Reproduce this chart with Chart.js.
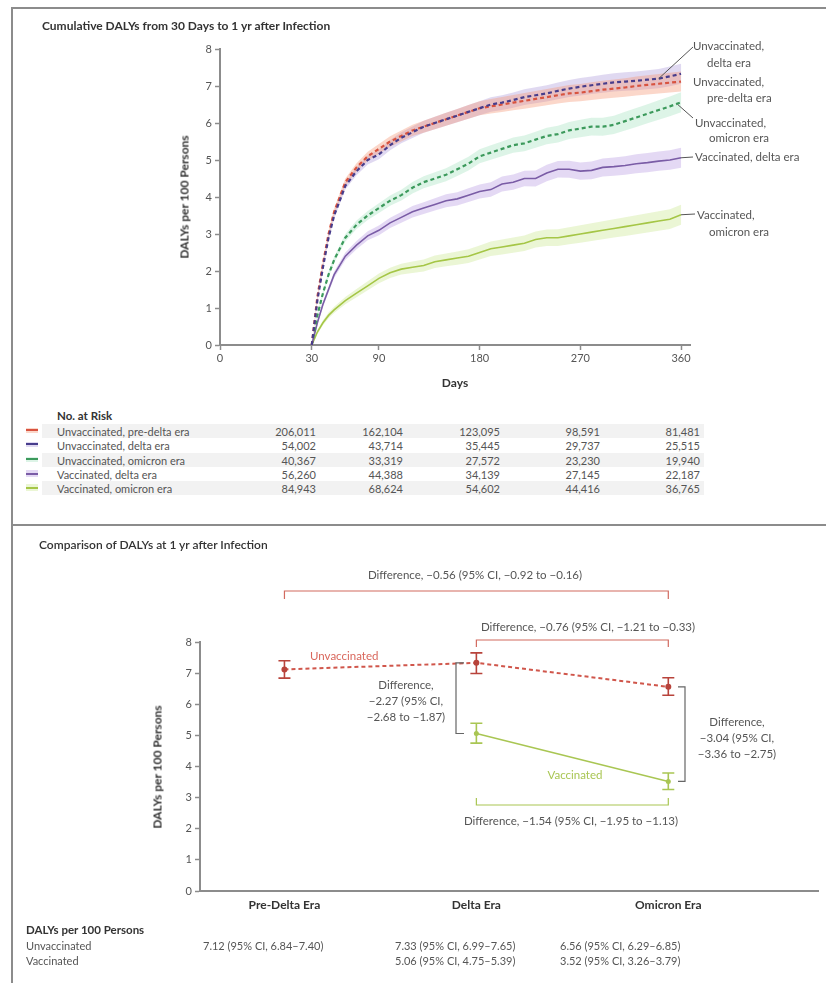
<!DOCTYPE html>
<html>
<head>
<meta charset="utf-8">
<script src="https://cdn.jsdelivr.net/npm/chart.js"></script>
<style>
  body { margin: 0; background: #fff; font-family: Lato, "Open Sans", sans-serif; color: #555; }
  #page { position: relative; width: 826px; height: 983px; overflow: hidden; }
  .abs { position: absolute; white-space: nowrap; line-height: 1; }
  .t { font-size: 11.5px; color: #555; }
  .hd { font-size: 12px; font-weight: 700; color: #333; }
  .hline { position: absolute; height: 2px; background: #8c8c8c; }
  .vline { position: absolute; width: 2px; background: #8c8c8c; }
  .row { position: absolute; left: 42px; width: 662px; height: 14px; }
  .num { position: absolute; font-size: 11px; color: #555; text-align: right; width: 60px; line-height: 1; }
  .ytitle { position: absolute; transform: translate(-50%, -50%) rotate(-90deg); font-size: 12px; font-weight: 700; color: #333; white-space: nowrap; }
</style>
</head>
<body>
<div id="page">
  <!-- frame -->
  <div class="hline" style="left:12px; top:7px; width:814px;"></div>
  <div class="vline" style="left:11px; top:7px; height:976px;"></div>
  <div class="hline" style="left:12px; top:524px; width:814px;"></div>

  <canvas id="top" width="826" height="400" style="position:absolute; left:0; top:0;"></canvas>
  <canvas id="bottom" width="826" height="400" style="position:absolute; left:0; top:526px;"></canvas>

  <!-- top panel text -->
  <div class="abs hd" style="left:42px; top:20px;">Cumulative DALYs from 30 Days to 1 yr after Infection</div>
  <div class="ytitle" style="left:184px; top:197px;">DALYs per 100 Persons</div>
  <div class="abs hd" style="left:455px; top:377px; transform:translateX(-50%);">Days</div>

  <div class="abs t" style="left:693px; top:40px;">Unvaccinated,</div>
  <div class="abs t" style="left:707px; top:57px;">delta era</div>
  <div class="abs t" style="left:693px; top:76px;">Unvaccinated,</div>
  <div class="abs t" style="left:707px; top:92px;">pre-delta era</div>
  <div class="abs t" style="left:695px; top:117px;">Unvaccinated,</div>
  <div class="abs t" style="left:709px; top:132px;">omicron era</div>
  <div class="abs t" style="left:695px; top:151px;">Vaccinated, delta era</div>
  <div class="abs t" style="left:697px; top:209px;">Vaccinated,</div>
  <div class="abs t" style="left:709px; top:226px;">omicron era</div>

  <div class="abs hd" style="left:57px; top:410px; font-size:11.5px;">No. at Risk</div>
  <div id="riskTable"></div>

  <!-- bottom panel text -->
  <div class="abs hd" style="left:39px; top:539px; font-weight:600;">Comparison of DALYs at 1 yr after Infection</div>
  <div class="ytitle" style="left:157px; top:767px;">DALYs per 100 Persons</div>
  <div class="abs t" style="left:475px; top:569px; transform:translateX(-50%);">Difference, &minus;0.56 (95% CI, &minus;0.92 to &minus;0.16)</div>
  <div class="abs t" style="left:588px; top:621px; transform:translateX(-50%);">Difference, &minus;0.76 (95% CI, &minus;1.21 to &minus;0.33)</div>
  <div class="abs t" style="left:406px; top:677px; transform:translateX(-50%); text-align:center; line-height:16px;">Difference,<br>&minus;2.27 (95% CI,<br>&minus;2.68 to &minus;1.87)</div>
  <div class="abs t" style="left:737px; top:714px; transform:translateX(-50%); text-align:center; line-height:16px;">Difference,<br>&minus;3.04 (95% CI,<br>&minus;3.36 to &minus;2.75)</div>
  <div class="abs t" style="left:571px; top:815px; transform:translateX(-50%);">Difference, &minus;1.54 (95% CI, &minus;1.95 to &minus;1.13)</div>
  <div class="abs t" style="left:310px; top:650px; color:#d9675c;">Unvaccinated</div>
  <div class="abs t" style="left:575px; top:769px; color:#a9c653; transform:translateX(-50%);">Vaccinated</div>

  <div class="abs hd" style="left:26px; top:924px; font-size:11.5px;">DALYs per 100 Persons</div>
  <div class="abs t" style="left:26px; top:940px; font-size:11px;">Unvaccinated</div>
  <div class="abs t" style="left:26px; top:955px; font-size:11px;">Vaccinated</div>
  <div id="dalyTable"></div>
</div>

<script>
// ---- top panel data: cumulative DALYs per 100 persons by day ----
const days = [30, 35, 40, 45, 50, 60, 70, 80, 90, 100, 110, 120, 130, 140, 150, 160, 170, 180,
  190, 200, 210, 220, 230, 240, 250, 260, 270, 280, 290, 300, 310, 320, 330, 340, 350, 360];
const unvaxPreDelta = [0, 1.3, 2.2, 3.0, 3.6, 4.4, 4.8, 5.1, 5.3, 5.5, 5.65, 5.8, 5.9, 6.0, 6.1, 6.2, 6.3, 6.4,
  6.45, 6.5, 6.55, 6.6, 6.65, 6.7, 6.75, 6.8, 6.82, 6.86, 6.9, 6.93, 6.96, 7.0, 7.03, 7.06, 7.09, 7.12];
const unvaxDelta = [0, 1.2, 2.1, 2.9, 3.5, 4.3, 4.7, 5.0, 5.15, 5.4, 5.6, 5.75, 5.9, 6.0, 6.1, 6.2, 6.3, 6.4,
  6.5, 6.55, 6.62, 6.7, 6.75, 6.8, 6.87, 6.93, 6.98, 7.02, 7.06, 7.1, 7.12, 7.14, 7.17, 7.2, 7.26, 7.33];
const unvaxOmicron = [0, 0.8, 1.4, 1.9, 2.3, 2.9, 3.25, 3.5, 3.7, 3.9, 4.05, 4.25, 4.4, 4.5, 4.6, 4.75, 4.9, 5.1,
  5.2, 5.3, 5.4, 5.45, 5.55, 5.65, 5.7, 5.8, 5.85, 5.9, 5.9, 5.95, 6.05, 6.15, 6.25, 6.35, 6.45, 6.56];
const vaxDelta = [0, 0.6, 1.1, 1.5, 1.9, 2.4, 2.7, 2.95, 3.1, 3.3, 3.45, 3.6, 3.7, 3.8, 3.9, 3.95, 4.05, 4.15,
  4.2, 4.35, 4.4, 4.5, 4.5, 4.65, 4.75, 4.75, 4.7, 4.72, 4.8, 4.82, 4.85, 4.9, 4.93, 4.97, 5.0, 5.06];
const vaxOmicron = [0, 0.35, 0.6, 0.8, 0.95, 1.2, 1.4, 1.6, 1.8, 1.95, 2.05, 2.1, 2.15, 2.25, 2.3, 2.35, 2.4, 2.5,
  2.6, 2.65, 2.7, 2.75, 2.85, 2.9, 2.9, 2.95, 3.0, 3.05, 3.1, 3.15, 3.2, 3.25, 3.3, 3.35, 3.4, 3.52];

const xTickDays = [0, 30, 90, 180, 270, 360];
const X_START = -52; // axis is broken between 0 and 30 days

// no. at risk
const riskLabels = ['Unvaccinated, pre-delta era', 'Unvaccinated, delta era', 'Unvaccinated, omicron era',
  'Vaccinated, delta era', 'Vaccinated, omicron era'];
const riskPreDelta = ['206,011', '162,104', '123,095', '98,591', '81,481'];
const riskUnvaxDelta = ['54,002', '43,714', '35,445', '29,737', '25,515'];
const riskUnvaxOmicron = ['40,367', '33,319', '27,572', '23,230', '19,940'];
const riskVaxDelta = ['56,260', '44,388', '34,139', '27,145', '22,187'];
const riskVaxOmicron = ['84,943', '68,624', '54,602', '44,416', '36,765'];

// ---- bottom panel data ----
const eras = ['Pre-Delta Era', 'Delta Era', 'Omicron Era'];
const unvaxDaly = [7.12, 7.33, 6.56];
const unvaxLow = [6.84, 6.99, 6.29];
const unvaxHigh = [7.40, 7.65, 6.85];
const vaxDaly = [null, 5.06, 3.52];
const vaxLow = [null, 4.75, 3.26];
const vaxHigh = [null, 5.39, 3.79];
const unvaxText = ['7.12 (95% CI, 6.84\u20137.40)', '7.33 (95% CI, 6.99\u20137.65)', '6.56 (95% CI, 6.29\u20136.85)'];
const vaxText = ['', '5.06 (95% CI, 4.75\u20135.39)', '3.52 (95% CI, 3.26\u20133.79)'];

// colours
const cPre = '#d8533f', bPre = 'rgba(244,150,115,0.38)';
const cUD = '#473d8c', bUD = 'rgba(165,145,215,0.35)';
const cUO = '#3c9a5c', bUO = 'rgba(150,220,180,0.32)';
const cVD = '#7a5ca6', bVD = 'rgba(185,155,225,0.38)';
const cVO = '#a5c646', bVO = 'rgba(205,232,150,0.4)';

Chart.defaults.font.family = 'Lato, "Open Sans", sans-serif';
Chart.defaults.font.size = 11;
Chart.defaults.color = '#555';

function pts(vals) { return days.map((d, i) => ({ x: d, y: vals[i] })); }

function line(vals, color, band, dashed) {
  return {
    data: pts(vals), borderColor: color, band: band, borderWidth: dashed ? 2.2 : 1.6, pointRadius: 0,
    borderDash: dashed ? [4, 3] : [], tension: 0
  };
}

function noPad(scale) {
  scale.paddingTop = 0; scale.paddingBottom = 0; scale.paddingLeft = 0; scale.paddingRight = 0;
}

// shaded confidence bands around each curve, widening with time
const bandPlugin = {
  id: 'bands',
  beforeDatasetsDraw(chart) {
    const { ctx, scales: { x, y } } = chart;
    ctx.save();
    chart.data.datasets.forEach(ds => {
      const top = [], bot = [];
      ds.data.forEach(p => {
        const hw = 1 + 9 * Math.sqrt(Math.min(1, (p.x - 30) / 330));
        const px = x.getPixelForValue(p.x), py = y.getPixelForValue(p.y);
        top.push([px, py - hw]);
        bot.push([px, py + hw]);
      });
      ctx.fillStyle = ds.band;
      ctx.beginPath();
      top.forEach((q, i) => (i ? ctx.lineTo(q[0], q[1]) : ctx.moveTo(q[0], q[1])));
      for (let i = bot.length - 1; i >= 0; i--) ctx.lineTo(bot[i][0], bot[i][1]);
      ctx.closePath();
      ctx.fill();
    });
    ctx.restore();
  }
};

const leaderPlugin = {
  id: 'leaders',
  afterDatasetsDraw(chart) {
    const { ctx, scales: { x, y } } = chart;
    ctx.save();
    ctx.strokeStyle = '#555';
    ctx.lineWidth = 1;
    const seg = (d, v, px, py) => {
      ctx.beginPath();
      ctx.moveTo(x.getPixelForValue(d), y.getPixelForValue(v));
      ctx.lineTo(px, py);
      ctx.stroke();
    };
    seg(340, 7.2, 693, 47);
    seg(357, 6.5, 693, 118);
    seg(360, 5.06, 693, 157);
    seg(360, 3.52, 695, 214);
    ctx.restore();
  }
};

new Chart(document.getElementById('top'), {
  type: 'line',
  data: {
    datasets: [
      line(unvaxDelta, cUD, bUD, true), line(unvaxPreDelta, cPre, bPre, true), line(unvaxOmicron, cUO, bUO, true),
      line(vaxDelta, cVD, bVD, false), line(vaxOmicron, cVO, bVO, false)
    ]
  },
  options: {
    responsive: false, animation: false,
    layout: { padding: { left: 180, right: 136, top: 49, bottom: 0 } },
    plugins: { legend: { display: false }, tooltip: { enabled: false } },
    scales: {
      x: {
        type: 'linear', min: X_START, max: 368,
        afterBuildTicks: axis => { axis.ticks = xTickDays.map(d => ({ value: d === 0 ? X_START : d })); },
        afterFit: s => { s.height = 55; noPad(s); },
        ticks: { callback: v => (v === X_START ? '0' : String(v)), padding: 2, maxRotation: 0, autoSkip: false },
        grid: { drawOnChartArea: false, tickLength: 5, color: '#8c8c8c', tickWidth: 1.5 },
        border: { color: '#8c8c8c', width: 2 }
      },
      y: {
        min: 0, max: 8,
        ticks: { stepSize: 1, padding: 3 },
        afterFit: s => { s.width = 40; noPad(s); },
        grid: { drawOnChartArea: false, tickLength: 5, color: '#8c8c8c', tickWidth: 1.5 },
        border: { color: '#8c8c8c', width: 2 }
      }
    }
  },
  plugins: [bandPlugin, leaderPlugin]
});

// bottom chart: error bars and difference brackets
const bracketPlugin = {
  id: 'brackets',
  afterDatasetsDraw(chart) {
    const { ctx, scales: { x, y } } = chart;
    ctx.save();
    const bars = (lo, hi, color) => {
      ctx.strokeStyle = color; ctx.lineWidth = 1.6;
      lo.forEach((l, i) => {
        if (l == null) return;
        const px = x.getPixelForValue(i), y1 = y.getPixelForValue(l), y2 = y.getPixelForValue(hi[i]);
        ctx.beginPath();
        ctx.moveTo(px, y1); ctx.lineTo(px, y2);
        ctx.moveTo(px - 6, y1); ctx.lineTo(px + 6, y1);
        ctx.moveTo(px - 6, y2); ctx.lineTo(px + 6, y2);
        ctx.stroke();
      });
    };
    bars(unvaxLow, unvaxHigh, '#b8433b');
    bars(vaxLow, vaxHigh, '#a9c653');

    const top = chart.canvas.offsetTop;
    const hBracket = (i0, i1, py, dir, color) => {
      const x0 = x.getPixelForValue(i0), x1 = x.getPixelForValue(i1);
      ctx.strokeStyle = color; ctx.lineWidth = 1.2;
      ctx.beginPath();
      ctx.moveTo(x0, py + dir); ctx.lineTo(x0, py); ctx.lineTo(x1, py); ctx.lineTo(x1, py + dir);
      ctx.stroke();
    };
    hBracket(0, 2, 591 - top, 8, '#d26a5f');
    hBracket(1, 2, 640 - top, 7, '#d26a5f');
    hBracket(1, 2, 805 - top, -7, '#a9c653');

    const vBracket = (v0, v1, px, dir) => {
      const y0 = y.getPixelForValue(v0), y1 = y.getPixelForValue(v1);
      ctx.strokeStyle = '#666'; ctx.lineWidth = 1.2;
      ctx.beginPath();
      ctx.moveTo(px + dir, y0); ctx.lineTo(px, y0); ctx.lineTo(px, y1); ctx.lineTo(px + dir, y1);
      ctx.stroke();
    };
    vBracket(unvaxDaly[1], vaxDaly[1], 456, 8);
    vBracket(unvaxDaly[2], vaxDaly[2], 685, -7);
    ctx.restore();
  }
};

new Chart(document.getElementById('bottom'), {
  type: 'line',
  data: {
    datasets: [
      {
        data: unvaxDaly.map((v, i) => ({ x: i, y: v })),
        borderColor: '#d0564b', borderWidth: 2, borderDash: [4, 3],
        pointRadius: 3, pointBackgroundColor: '#b8433b', pointBorderWidth: 0, tension: 0
      },
      {
        data: vaxDaly.map((v, i) => ({ x: i, y: v })).filter(p => p.y != null),
        borderColor: '#a9c653', borderWidth: 1.6,
        pointRadius: 2.5, pointBackgroundColor: '#a9c653', pointBorderWidth: 0, tension: 0
      }
    ]
  },
  options: {
    responsive: false, animation: false,
    layout: { padding: { left: 160, right: 8, top: 116, bottom: 0 } },
    plugins: { legend: { display: false }, tooltip: { enabled: false } },
    scales: {
      x: {
        type: 'linear', min: -0.44, max: 2.78,
        afterBuildTicks: axis => { axis.ticks = eras.map((e, i) => ({ value: i })); },
        afterFit: s => { s.height = 35; noPad(s); },
        ticks: {
          callback: v => eras[v], padding: 7, autoSkip: false, maxRotation: 0,
          font: { size: 12, weight: 'bold' }, color: '#333'
        },
        grid: { display: true, drawOnChartArea: false, drawTicks: false, color: '#8c8c8c' },
        border: { color: '#8c8c8c', width: 2 }
      },
      y: {
        min: 0, max: 8,
        ticks: { stepSize: 1, padding: 3 },
        afterFit: s => { s.width = 40; noPad(s); },
        grid: { drawOnChartArea: false, tickLength: 5, color: '#8c8c8c', tickWidth: 1.5 },
        border: { color: '#8c8c8c', width: 2 }
      }
    }
  },
  plugins: [bracketPlugin]
});

// ---- HTML tables ----
const riskRowsData = [riskPreDelta, riskUnvaxDelta, riskUnvaxOmicron, riskVaxDelta, riskVaxOmicron];
const riskLine = [cPre, cUD, cUO, cVD, cVO];
const riskBand = [bPre, bUD, bUO, bVD, bVO];
const riskDashed = [true, true, true, false, false];
const riskRight = [316, 403, 500, 600, 700];
const riskRowY = [426, 440, 455, 469, 483];
let html = '';
riskLabels.forEach((lab, r) => {
  const y = riskRowY[r];
  if (r % 2 === 0) html += `<div class="row" style="top:${y - 2}px; background:#f2f2f2;"></div>`;
  if (riskDashed[r]) {
    html += `<div style="position:absolute; left:26px; top:${y + 2}px; width:12px; height:5px; background:${riskBand[r]};"></div>`;
    html += `<div style="position:absolute; left:26px; top:${y + 3}px; width:12px; border-top:2px dashed ${riskLine[r]};"></div>`;
  } else {
    html += `<div style="position:absolute; left:26px; top:${y + 1}px; width:12px; height:7px; background:${riskBand[r]};"></div>`;
    html += `<div style="position:absolute; left:26px; top:${y + 4}px; width:12px; height:1.5px; background:${riskLine[r]};"></div>`;
  }
  html += `<div class="abs t" style="left:57px; top:${y}px; font-size:11px;">${lab}</div>`;
  riskRowsData[r].forEach((v, c) => {
    html += `<div class="num" style="left:${riskRight[c] - 60}px; top:${y}px;">${v}</div>`;
  });
});
document.getElementById('riskTable').innerHTML = html;

const dalyLeft = [203, 395, 560];
let html2 = '';
eras.forEach((e, i) => {
  html2 += `<div class="abs t" style="left:${dalyLeft[i]}px; top:940px; font-size:11px;">${unvaxText[i]}</div>`;
  if (vaxText[i]) html2 += `<div class="abs t" style="left:${dalyLeft[i]}px; top:955px; font-size:11px;">${vaxText[i]}</div>`;
});
document.getElementById('dalyTable').innerHTML = html2;
</script>
</body>
</html>
